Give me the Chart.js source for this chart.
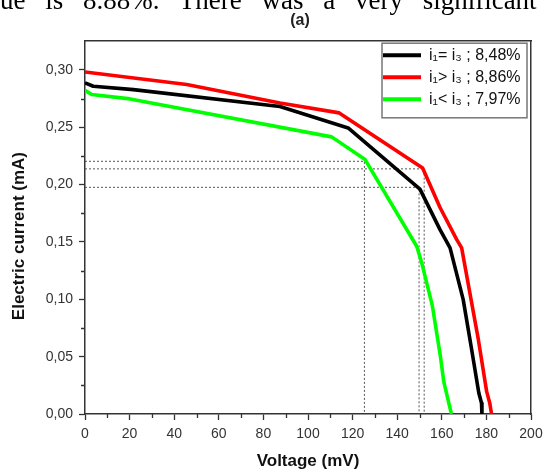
<!DOCTYPE html>
<html><head><meta charset="utf-8">
<script src="https://cdn.jsdelivr.net/npm/chart.js@4.4.1/dist/chart.umd.min.js"></script>
<style>
html,body{margin:0;padding:0;background:#fff;}
#wrap{position:relative;width:545px;height:470px;overflow:hidden;}
#cut{position:absolute;left:0;top:-13px;font-size:27px;font-family:"Liberation Serif",serif;white-space:nowrap;line-height:27px;color:#000;word-spacing:13px;}
canvas{position:absolute;left:0;top:0;}
</style></head><body>
<div id="wrap"><canvas id="c" width="545" height="470"></canvas><div id="cut">ue is 8.88%. There was a very significant</div></div>
<script>
// ---- data ----
const seriesNames = ['i\u2081= i\u2083 ; 8,48%', 'i\u2081> i\u2083 ; 8,86%', 'i\u2081< i\u2083 ; 7,97%'];
const seriesColors = ['#000000', '#ff0000', '#00ff00'];

const blackV = [0, 3.7, 21.7, 87.4, 118, 150.2, 159.2, 163.7, 169.6, 173.4, 176.6, 177.8, 178.0];
const blackI = [0.2887, 0.2857, 0.2828, 0.268, 0.2494, 0.196, 0.1607, 0.1448, 0.0997, 0.056, 0.0183, 0.0096, 0];

const redV = [0, 45.6, 87.4, 114, 151.4, 159.2, 166.7, 168.9, 176.4, 180.1, 181.5, 182.3];
const redI = [0.2982, 0.2872, 0.2712, 0.2625, 0.2145, 0.180, 0.152, 0.1448, 0.0648, 0.0197, 0.0096, 0];

const greenV = [0, 3, 20.2, 110.6, 125.6, 148.8, 151, 155.8, 159.4, 160.9, 164.3];
const greenI = [0.2822, 0.2785, 0.2747, 0.2416, 0.2218, 0.146, 0.1317, 0.094, 0.050, 0.028, 0];

// maximum power points (dotted guide lines): black, red, green
const mppV = [149.8, 152.1, 125.3];
const mppI = [0.1976, 0.2137, 0.2203];

const xTickValues = [0, 20, 40, 60, 80, 100, 120, 140, 160, 180, 200];
const xMinorValues = [10, 30, 50, 70, 90, 110, 130, 150, 170, 190];
const yTickValues = [0, 0.05, 0.10, 0.15, 0.20, 0.25, 0.30];
const yMinorValues = [0.025, 0.075, 0.125, 0.175, 0.225, 0.275];

const xTitle = 'Voltage (mV)';
const yTitle = 'Electric current (mA)';
const chartTitle = '(a)';

// ---- build ----
const FONT = '"Liberation Sans", Arial, sans-serif';
const toPts = (V, I) => V.map((v, k) => ({x: v, y: I[k]}));
const curves = [[blackV, blackI], [redV, redI], [greenV, greenI]];

const datasets = curves.map((c, i) => ({
  label: seriesNames[i],
  data: toPts(c[0], c[1]),
  xAxisID: 'x',
  yAxisID: 'y',
  borderColor: seriesColors[i],
  backgroundColor: seriesColors[i],
  borderWidth: 3.6,
  pointRadius: 0,
  tension: 0,
  borderJoinStyle: 'round',
  borderCapStyle: 'butt',
  order: 1
}));
mppV.forEach((v, i) => {
  datasets.push({
    label: 'mpp' + i,
    data: [{x: 0, y: mppI[i]}, {x: v, y: mppI[i]}, {x: v, y: 0}],
    xAxisID: 'x',
    yAxisID: 'y',
    borderColor: '#555555',
    borderWidth: 1,
    borderDash: [2, 2],
    pointRadius: 0,
    tension: 0,
    order: 5
  });
});

const axisColor = '#333333';

const frameLegend = {
  id: 'frameLegend',
  afterLayout(chart) {
    // shift the y-axis title block slightly downward, as in the reference
    const yt = chart.scales.yt;
    if (yt) { yt.top = chart.chartArea.top + 17; yt.bottom = chart.chartArea.bottom; }
  },
  beforeDraw(chart) {
    const lg = chart.legend;
    const ca = chart.chartArea;
    lg.left = ca.right - 154;
    lg.right = ca.right;
    lg.top = ca.top;
    const tb = chart.titleBlock;
    if (tb) { tb.left = 250; tb.right = 350; }
  },
  afterDraw(chart) {
    const ctx = chart.ctx;
    const lg = chart.legend;
    const xs = chart.scales.x, ys = chart.scales.y;
    const ca = chart.chartArea;
    const pad = lg.options.labels.padding;
    const itemH = lg.options.labels.font.size * 1.2;
    const h = 3 * (itemH + pad) + 1;
    ctx.save();
    ctx.strokeStyle = '#777777';
    ctx.lineWidth = 1.5;
    const bx = lg.left + pad - 1;
    ctx.strokeRect(bx, ca.top + 2, (ca.right - 4) - bx, h - 2);
    // minor ticks
    ctx.strokeStyle = axisColor;
    ctx.lineWidth = 1.3;
    ctx.beginPath();
    xMinorValues.forEach(v => {
      const px = Math.round(xs.getPixelForValue(v)) + 0.5;
      ctx.moveTo(px, ca.bottom);
      ctx.lineTo(px, ca.bottom + 4);
    });
    yMinorValues.forEach(v => {
      const py = Math.round(ys.getPixelForValue(v)) + 0.5;
      ctx.moveTo(ca.left, py);
      ctx.lineTo(ca.left - 4, py);
    });
    ctx.stroke();
    ctx.restore();
  }
};

new Chart(document.getElementById('c'), {
  type: 'line',
  data: {datasets},
  plugins: [frameLegend],
  options: {
    responsive: false,
    animation: false,
    devicePixelRatio: 1,
    layout: {padding: {left: 0, right: 14, top: 0, bottom: 0}},
    plugins: {
      title: {
        display: true,
        text: chartTitle,
        fullSize: false,
        color: '#222222',
        font: {family: FONT, size: 16, weight: 'bold', lineHeight: 1.2},
        padding: {top: 11, bottom: 11}
      },
      legend: {
        position: 'chartArea',
        align: 'start',
        labels: {
          boxWidth: 38,
          boxHeight: 4,
          padding: 6,
          color: '#111111',
          font: {family: FONT, size: 16},
          generateLabels: () => seriesNames.map((n, i) => ({
            text: n, fillStyle: seriesColors[i], strokeStyle: seriesColors[i],
            lineWidth: 0, hidden: false, datasetIndex: i, fontColor: '#111111'
          }))
        }
      },
      tooltip: {enabled: false}
    },
    scales: {
      x: {
        type: 'linear', position: 'bottom', min: 0, max: 200,
        afterBuildTicks: s => { s.ticks = xTickValues.map(v => ({value: v})); },
        afterFit: s => { s.height = 56; s.paddingRight = Math.min(s.paddingRight, 12); s.paddingLeft = Math.min(s.paddingLeft, 12); },
        ticks: {color: '#333333', font: {family: FONT, size: 14}, padding: 6, maxRotation: 0,
                callback: v => String(v)},
        grid: {display: true, drawOnChartArea: false, drawTicks: true, tickLength: 6, tickColor: axisColor, tickWidth: 1.3},
        border: {display: true, color: axisColor, width: 1.5},
        title: {display: true, text: xTitle, color: '#111111',
                font: {family: FONT, size: 17, weight: 'bold', lineHeight: 1.0}, padding: {top: 0, bottom: 0}}
      },
      y: {
        type: 'linear', position: 'left', weight: 0, min: 0, max: 0.325,
        afterBuildTicks: s => { s.ticks = yTickValues.map(v => ({value: v})); },
        afterFit: s => { s.width = 55; },
        ticks: {color: '#333333', font: {family: FONT, size: 14}, padding: 6,
                callback: v => v.toFixed(2).replace('.', ',')},
        grid: {display: true, drawOnChartArea: false, drawTicks: true, tickLength: 6, tickColor: axisColor, tickWidth: 1.3},
        border: {display: true, color: axisColor, width: 1.5}
      },
      yt: {
        type: 'linear', position: 'left', weight: 5, min: 0, max: 1, display: true,
        ticks: {display: false}, grid: {display: false, drawTicks: false},
        border: {display: false},
        afterFit: s => { s.width = 30; },
        title: {display: true, text: yTitle, color: '#111111',
                font: {family: FONT, size: 17, weight: 'bold', lineHeight: 1.2}, padding: {top: 9, bottom: 0}}
      },
      x2: {
        type: 'linear', position: 'top', min: 0, max: 200, display: true,
        ticks: {display: false}, grid: {display: false, drawTicks: false},
        border: {display: true, color: axisColor, width: 1.5},
        afterFit: s => { s.height = 0; }
      },
      y2: {
        type: 'linear', position: 'right', min: 0, max: 0.325, display: true,
        ticks: {display: false}, grid: {display: false, drawTicks: false},
        border: {display: true, color: axisColor, width: 1.5},
        afterFit: s => { s.width = 0; }
      }
    }
  }
});
</script>
</body></html>
